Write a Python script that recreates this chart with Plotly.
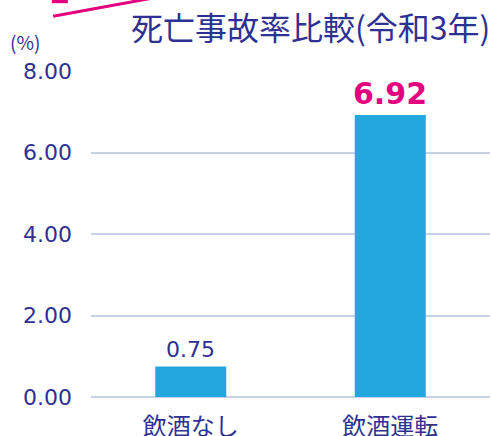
import plotly.graph_objects as go

categories = ["飲酒なし", "飲酒運転"]
values = [0.75, 6.92]
value_labels = ["0.75", "6.92"]
tick_vals = [0, 2, 4, 6, 8]
tick_text = ["0.00", "2.00", "4.00", "6.00", "8.00"]
title_text = "死亡事故率比較(令和3年)"
unit_text = "(%)"

navy = "#2E3192"
pink = "#E4007F"
bar_color = "#22A7DF"
grid_color = "#C9D1E6"

fig = go.Figure()
fig.add_trace(go.Bar(x=categories, y=values, marker_color=bar_color, marker_line_width=0,
                     hoverinfo="skip"))

# value labels
fig.add_annotation(x=categories[0], y=values[0], text=value_labels[0], showarrow=False,
                   yanchor="bottom", yshift=2, font=dict(family="DejaVu Sans", size=22, color=navy))
fig.add_annotation(x=categories[1], y=values[1], text="<b>" + value_labels[1] + "</b>", showarrow=False,
                   yanchor="bottom", yshift=2, font=dict(family="DejaVu Sans", size=30, color=pink))

# title
fig.add_annotation(xref="paper", yref="paper", x=1.0, y=1.0, xanchor="right", yanchor="middle",
                   yshift=45, xshift=2, text=title_text, showarrow=False,
                   font=dict(family="Noto Sans CJK JP", size=32, color=navy))
# unit
fig.add_annotation(xref="paper", yref="paper", x=0, y=1.0, xanchor="left", yanchor="middle",
                   xshift=-83, yshift=30, text=unit_text, showarrow=False,
                   font=dict(family="Noto Sans CJK JP", size=19, color=navy))

# decorative pink stroke (partially cropped)
fig.add_shape(type="line", xref="paper", yref="paper", x0=-0.095, y0=1.168, x1=0.16, y1=1.225,
              line=dict(color=pink, width=3))
fig.add_shape(type="rect", xref="paper", yref="paper", x0=-0.098, y0=1.208, x1=-0.058, y1=1.225,
              line=dict(width=0), fillcolor=pink)

fig.update_layout(
    width=492, height=436,
    margin=dict(l=91, r=2, t=71, b=39),
    paper_bgcolor="white", plot_bgcolor="white",
    showlegend=False, bargap=0.644,
    xaxis=dict(showgrid=False, showline=False, zeroline=False, ticks="",
               tickfont=dict(family="Noto Sans CJK JP", size=24, color=navy),
               ticklabelstandoff=13, automargin=False),
    yaxis=dict(range=[0, 8], tickvals=tick_vals, ticktext=tick_text, showgrid=True,
               gridcolor=grid_color, gridwidth=1.5, zeroline=True, zerolinecolor=grid_color,
               zerolinewidth=2, showline=False, ticks="",
               tickfont=dict(family="DejaVu Sans", size=22, color=navy),
               ticklabelstandoff=18, automargin=False),
)

fig.write_html("out.html", config={"displayModeBar": False},
               post_script="document.body.style.margin='0';document.body.style.overflow='hidden';")
